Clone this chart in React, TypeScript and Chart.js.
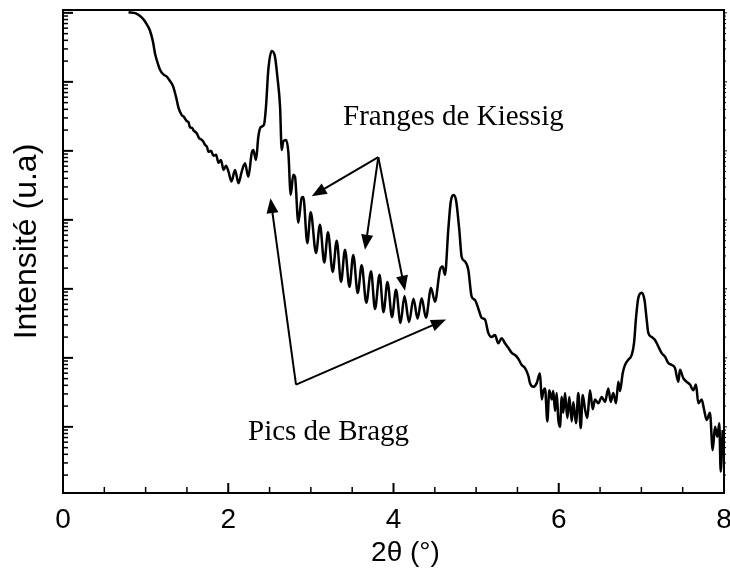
import React, { useEffect, useRef } from "react";
import { Chart, registerables } from "chart.js";

Chart.register(...registerables);

// 2θ (degrees)
const twoTheta = [
  0.793, 0.883, 0.956, 1.011, 1.053, 1.089, 1.113, 1.144, 1.174, 1.21, 1.259, 1.295, 1.331, 1.356, 1.376, 1.398,
  1.437, 1.464, 1.497, 1.519, 1.537, 1.561, 1.585, 1.618, 1.646, 1.679, 1.7, 1.719, 1.743, 1.761, 1.791, 1.822,
  1.852, 1.882, 1.912, 1.943, 1.973, 2.003, 2.039, 2.082, 2.124, 2.163, 2.203, 2.243, 2.284, 2.303, 2.336, 2.364,
  2.393, 2.433, 2.457, 2.485, 2.526, 2.566, 2.594, 2.627, 2.647, 2.666, 2.699, 2.727, 2.756, 2.787, 2.808, 2.848,
  2.889, 2.908, 2.957, 2.998, 3.062, 3.11, 3.162, 3.207, 3.264, 3.313, 3.365, 3.413, 3.467, 3.513, 3.567, 3.615,
  3.671, 3.728, 3.776, 3.831, 3.879, 3.927, 3.982, 4.03, 4.085, 4.133, 4.188, 4.242, 4.291, 4.341, 4.393, 4.454,
  4.502, 4.563, 4.595, 4.623, 4.663, 4.692, 4.724, 4.756, 4.796, 4.825, 4.865, 4.905, 4.946, 4.986, 5.026, 5.067,
  5.107, 5.147, 5.188, 5.228, 5.268, 5.309, 5.349, 5.389, 5.431, 5.471, 5.51, 5.552, 5.592, 5.632, 5.652, 5.692,
  5.733, 5.773, 5.794, 5.813, 5.834, 5.862, 5.886, 5.915, 5.934, 5.955, 5.975, 5.995, 6.015, 6.036, 6.055, 6.076,
  6.104, 6.128, 6.157, 6.176, 6.209, 6.237, 6.266, 6.29, 6.318, 6.346, 6.378, 6.411, 6.439, 6.479, 6.52, 6.56,
  6.6, 6.629, 6.66, 6.693, 6.721, 6.741, 6.774, 6.802, 6.842, 6.883, 6.911, 6.935, 6.963, 7.004, 7.038, 7.062,
  7.084, 7.125, 7.165, 7.205, 7.246, 7.286, 7.326, 7.367, 7.407, 7.447, 7.467, 7.507, 7.548, 7.588, 7.629, 7.661,
  7.689, 7.73, 7.758, 7.79, 7.83, 7.863, 7.891, 7.919, 7.943, 7.96, 7.984,
];

// Intensité (u.a)
const intensity = [
  1.02e7, 9.8e6, 8.5e6, 6.9e6, 5.5e6, 3.8e6, 2.6e6, 1.9e6, 1.5e6, 1.3e6, 1.18e6, 1.03e6, 8.7e5, 6.9e5, 5.5e5, 4.2e5,
  3.3e5, 3.1e5, 2.7e5, 2.6e5, 2.2e5, 2.15e5, 1.95e5, 1.8e5, 1.54e5, 1.44e5, 1.35e5, 1.22e5, 1.14e5, 9.7e4, 1.0e5, 8.5e4,
  8.8e4, 6.7e4, 7.4e4, 5.3e4, 6.1e4, 5.0e4, 3.6e4, 5.3e4, 3.4e4, 5.0e4, 6.6e4, 4.2e4, 9.3e4, 1.03e5, 7.4e4, 1.6e5,
  2.2e5, 2.4e5, 4.4e5, 1.5e6, 2.8e6, 2.3e6, 1.2e6, 4.4e5, 1.03e5, 1.37e5, 1.44e5, 9.7e4, 2.3e4, 4.5e4, 4.2e4, 9.1e3,
  2.1e4, 2.15e4, 4.6e3, 1.29e4, 3.3e3, 8.5e3, 2.4e3, 6.6e3, 1.76e3, 5.0e3, 1.26e3, 3.7e3, 1.07e3, 3.1e3, 870, 2.2e3,
  630, 1.8e3, 510, 1.6e3, 460, 1.26e3, 390, 970, 320, 790, 330, 720, 370, 730, 380, 1.03e3,
  650, 1.9e3, 2.1e3, 1.6e3, 7.2e3, 1.8e4, 2.3e4, 1.95e4, 7.2e3, 2.9e3, 2.5e3, 1.9e3, 770, 690, 520, 380,
  360, 230, 200, 215, 163, 193, 163, 140, 118, 110, 97, 79, 71, 55, 43, 38,
  43, 60, 25, 33, 36, 12, 34, 25, 33, 17, 31, 12.6, 10, 27, 16, 31,
  13.4, 27, 12, 23, 11.3, 31, 9.6, 29, 18, 13.4, 34, 18, 25, 22, 27, 23,
  36, 23, 31, 22, 45, 33, 60, 79, 94, 110, 163, 380, 740, 880, 690, 380,
  230, 200, 182, 146, 117, 104, 84, 79, 71, 45, 67, 51, 45, 41, 34, 41,
  22, 25, 18, 12.6, 16, 4.6, 10, 7.2, 11.3, 2.25, 9.0,
];

const xMin = 0;
const xMax = 8;
const xLabelStep = 2;
const xMajorTicks = [0, 2, 4, 6, 8];
const xMinorTicks = [0.5, 1, 1.5, 2.5, 3, 3.5, 4.5, 5, 5.5, 6.5, 7, 7.5];
const yMin = 1.1;
const yMax = 1.1e7;
const yDecades = [0, 1, 2, 3, 4, 5, 6, 7];
const yMinorMultipliers = [2, 3, 4, 5, 6, 7, 8, 9];

const xTitle = "2θ (°)";
const yTitle = "Intensité (u.a)";

const annotationTexts = ["Franges de Kiessig", "Pics de Bragg"];
const annotationTextX = [3.389, 2.239];
const annotationTextY = [2.4e5, 6.5];

const arrowFromX = [3.816, 3.816, 3.816, 2.82, 2.82];
const arrowFromY = [8.1e4, 8.1e4, 8.1e4, 41, 41];
const arrowToX = [3.01, 3.655, 4.139, 2.511, 4.635];
const arrowToY = [2.2e4, 3.7e3, 940, 2.06e4, 360];

const decorPlugin = {
  id: "decor",
  afterDraw(chart: any) {
    const { ctx, chartArea } = chart;
    const xs = chart.scales.x;
    const ys = chart.scales.y;
    const { left, right, top, bottom } = chartArea;
    ctx.save();
    ctx.strokeStyle = "#000";
    ctx.fillStyle = "#000";

    const seg = (x1: number, y1: number, x2: number, y2: number) => {
      ctx.beginPath();
      ctx.moveTo(x1, y1);
      ctx.lineTo(x2, y2);
      ctx.stroke();
    };

    // frame
    ctx.lineWidth = 2;
    ctx.strokeRect(left, top, right - left, bottom - top);

    // x ticks (inward)
    ctx.lineWidth = 2;
    xMajorTicks.forEach((v) => {
      const px = xs.getPixelForValue(v);
      seg(px, bottom, px, bottom - 10);
    });
    ctx.lineWidth = 1.5;
    xMinorTicks.forEach((v) => {
      const px = xs.getPixelForValue(v);
      seg(px, bottom, px, bottom - 6);
    });

    // y ticks (log)
    yDecades.forEach((d) => {
      const base = Math.pow(10, d);
      if (base >= yMin && base <= yMax) {
        const py = ys.getPixelForValue(base);
        ctx.lineWidth = 2;
        seg(left, py, left + 10, py);
        ctx.lineWidth = 1;
        seg(right, py, right + 3, py);
      }
      yMinorMultipliers.forEach((m) => {
        const v = m * base;
        if (v < yMin || v > yMax) return;
        const py = ys.getPixelForValue(v);
        ctx.lineWidth = 1.5;
        seg(left, py, left + 5, py);
        ctx.lineWidth = 1;
        seg(right, py, right + 2, py);
      });
    });

    // arrows
    ctx.lineWidth = 2;
    const headLen = 15;
    const headHalf = 6;
    arrowFromX.forEach((fx, i) => {
      const x1 = xs.getPixelForValue(fx);
      const y1 = ys.getPixelForValue(arrowFromY[i]);
      const x2 = xs.getPixelForValue(arrowToX[i]);
      const y2 = ys.getPixelForValue(arrowToY[i]);
      const len = Math.hypot(x2 - x1, y2 - y1);
      const ux = (x2 - x1) / len;
      const uy = (y2 - y1) / len;
      const bx = x2 - ux * headLen;
      const by = y2 - uy * headLen;
      seg(x1, y1, bx + ux * 2, by + uy * 2);
      ctx.beginPath();
      ctx.moveTo(x2, y2);
      ctx.lineTo(bx - uy * headHalf, by + ux * headHalf);
      ctx.lineTo(bx + uy * headHalf, by - ux * headHalf);
      ctx.closePath();
      ctx.fill();
    });

    // annotation texts
    ctx.font = '29px "Liberation Serif", "Times New Roman", serif';
    ctx.textAlign = "left";
    ctx.textBaseline = "alphabetic";
    annotationTexts.forEach((t, i) => {
      ctx.fillText(t, xs.getPixelForValue(annotationTextX[i]), ys.getPixelForValue(annotationTextY[i]));
    });

    // axis titles
    ctx.font = '28px "Liberation Sans", Arial, sans-serif';
    ctx.textAlign = "center";
    ctx.textBaseline = "middle";
    ctx.fillText(xTitle, (left + right) / 2 + 12, bottom + 60);

    ctx.save();
    ctx.translate(left - 36, (top + bottom) / 2 - 10);
    ctx.rotate(-Math.PI / 2);
    ctx.font = '32px "Liberation Sans", Arial, sans-serif';
    ctx.fillText(yTitle, 0, 0);
    ctx.restore();

    ctx.restore();
  },
};

export default function App() {
  const canvasRef = useRef<HTMLCanvasElement | null>(null);

  useEffect(() => {
    if (!canvasRef.current) return;
    const points = twoTheta.map((x, i) => ({ x, y: intensity[i] }));
    const chart = new Chart(canvasRef.current, {
      type: "line",
      data: {
        datasets: [
          {
            data: points,
            borderColor: "#000",
            borderWidth: 2.5,
            pointRadius: 0,
            cubicInterpolationMode: "monotone",
            fill: false,
          },
        ],
      },
      options: {
        animation: false,
        responsive: false,
        maintainAspectRatio: false,
        layout: { padding: { top: 10, right: 6, left: 0, bottom: 0 } },
        plugins: { legend: { display: false }, tooltip: { enabled: false } },
        scales: {
          x: {
            type: "linear",
            min: xMin,
            max: xMax,
            grid: { display: false, drawTicks: false },
            border: { display: false },
            ticks: {
              stepSize: xLabelStep,
              color: "#000",
              padding: 10,
              font: { family: '"Liberation Sans", Arial, sans-serif', size: 28 },
            },
            afterFit: (s: any) => {
              s.height = 80;
              s.paddingLeft = 0;
              s.paddingRight = 0;
            },
          },
          y: {
            type: "logarithmic",
            min: yMin,
            max: yMax,
            grid: { display: false, drawTicks: false },
            border: { display: false },
            ticks: { display: false },
            afterFit: (s: any) => {
              s.width = 63;
            },
          },
        },
      },
      plugins: [decorPlugin],
    });
    return () => chart.destroy();
  }, []);

  return (
    <div style={{ position: "absolute", left: 0, top: 0, width: 730, height: 573, background: "#fff" }}>
      <canvas ref={canvasRef} width={730} height={573} />
    </div>
  );
}
